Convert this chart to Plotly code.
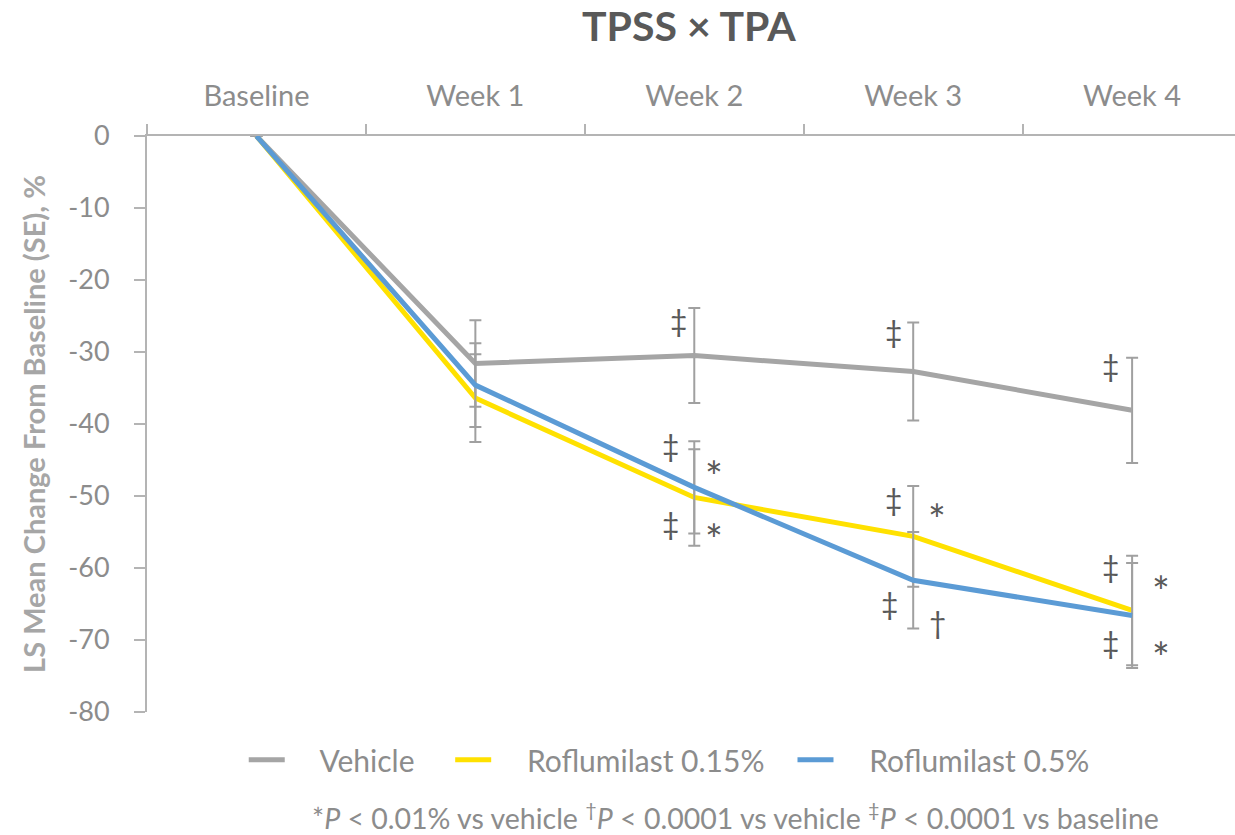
import plotly.graph_objects as go

categories = ["Baseline", "Week 1", "Week 2", "Week 3", "Week 4"]

vehicle = [0, -31.6, -30.5, -32.7, -38.1]
vehicle_se = [0, 6.0, 6.6, 6.8, 7.3]

rof015 = [0, -36.4, -50.2, -55.6, -65.9]
rof015_se = [0, 6.1, 6.7, 7.0, 7.6]

rof05 = [0, -34.6, -48.8, -61.7, -66.6]
rof05_se = [0, 5.8, 6.4, 6.7, 7.3]

series_names = ["Vehicle", "Roflumilast 0.15%", "Roflumilast 0.5%"]
series_colors = ["#a5a5a5", "#ffe100", "#5b9bd5"]

y_ticks = [0, -10, -20, -30, -40, -50, -60, -70, -80]
y_tick_labels = ["0", "-10", "-20", "-30", "-40", "-50", "-60", "-70", "-80"]

# significance symbols: (symbol, x position in category units, y value)
sig_symbols = ["‡", "‡", "*", "‡", "*",
               "‡", "‡", "*", "‡", "†",
               "‡", "‡", "*", "‡", "*"]
sig_x = [1.93, 1.89, 2.09, 1.89, 2.09,
         2.91, 2.91, 3.11, 2.89, 3.11,
         3.90, 3.90, 4.13, 3.90, 4.13]
sig_y = [-25.8, -43.2, -46.0, -54.0, -54.7,
         -27.4, -50.7, -51.9, -65.1, -67.5,
         -32.1, -60.0, -61.9, -70.6, -71.1]

FONT = "Lato"
TXT = "#8c8c8c"
AX = "#b4b4b4"
SYM_STYLE = {"‡": dict(size=30, yshift=2), "†": dict(size=30, yshift=0),
             "*": dict(size=42, yshift=-9)}

NB = "\u00a0"
lead = [4, 4, 4]
trail = [4, 3, 0]

fig = go.Figure()
for i, (name, vals, se, col) in enumerate(zip(series_names, [vehicle, rof015, rof05],
                               [vehicle_se, rof015_se, rof05_se], series_colors)):
    label = NB * lead[i] + name + NB * trail[i]
    fig.add_trace(go.Scatter(
        x=categories, y=vals, name=label, mode="lines",
        line=dict(color=col, width=5),
        error_y=dict(type="data", array=se, visible=True, color="#a0a0a0",
                     thickness=2, width=6),
    ))

for s, x, y in zip(sig_symbols, sig_x, sig_y):
    st = SYM_STYLE[s]
    fig.add_annotation(x=x, y=y, text=s, showarrow=False, yshift=st["yshift"],
                       font=dict(family=FONT, size=st["size"], color="#595959"))

fig.add_annotation(xref="paper", yref="paper", x=0.498, y=1.0, yshift=111,
                   yanchor="middle",
                   text="<b>TPSS × TPA</b>", showarrow=False,
                   font=dict(family=FONT, size=41, color="#595959"))

fig.add_annotation(xref="paper", yref="paper", x=0.541, y=-0.181,
                   yanchor="middle",
                   text="*<i>P</i> &lt; 0.01% vs vehicle <sup>†</sup><i>P</i> &lt; 0.0001 vs vehicle <sup>‡</sup><i>P</i> &lt; 0.0001 vs baseline",
                   showarrow=False,
                   font=dict(family=FONT, size=28.5, color=TXT))

fig.update_layout(
    width=1235, height=835,
    margin=dict(l=147, r=0, t=136, b=123),
    paper_bgcolor="white", plot_bgcolor="white",
    font=dict(family=FONT, color=TXT),
    showlegend=True,
    legend=dict(orientation="h", x=0.48, xanchor="center", y=-0.083,
                yanchor="middle", font=dict(family=FONT, size=30, color=TXT),
                itemwidth=36, tracegroupgap=0),
    xaxis=dict(type="category", side="top", range=[-0.5, 4.47],
               showline=True, linecolor=AX, linewidth=2, automargin=False,
               ticks="outside", tickson="boundaries", ticklen=10,
               tickcolor=AX, tickwidth=2, showgrid=False, zeroline=False,
               tickfont=dict(family=FONT, size=29, color=TXT),
               ticklabelstandoff=16),
    yaxis=dict(range=[-80, 0], tickvals=y_ticks, ticktext=y_tick_labels,
               showline=True, automargin=False,
               linecolor=AX, linewidth=2, ticks="outside", ticklen=11,
               tickcolor=AX, tickwidth=2, showgrid=False, zeroline=False,
               tickfont=dict(family=FONT, size=27, color=TXT),
               ticklabelstandoff=19,
               title=dict(text="<b>LS Mean Change From Baseline (SE), %</b>",
                          font=dict(family=FONT, size=29, color="#a6a6a6"),
                          standoff=14)),
)

fig.write_html("out.html", config={"displayModeBar": False},
               post_script="document.body.style.margin='0';window.dispatchEvent(new Event('resize'));")
